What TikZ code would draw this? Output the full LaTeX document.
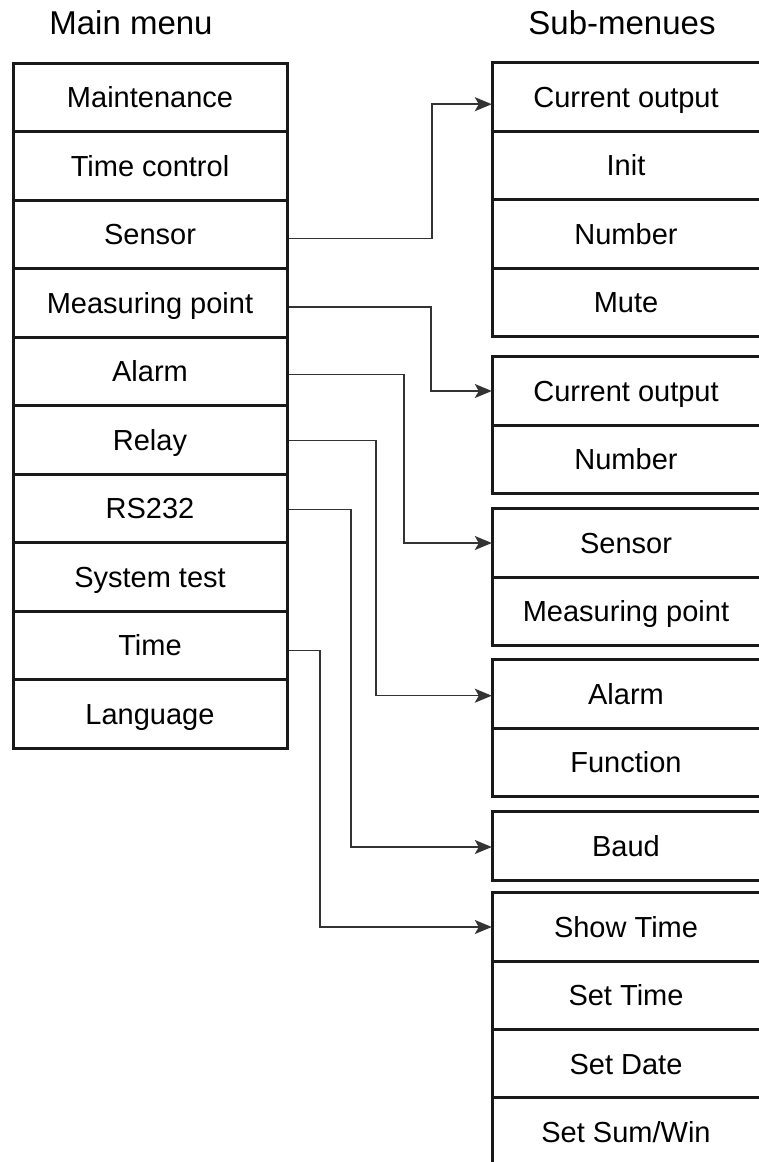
\documentclass[tikz,border=0pt]{standalone}
\usepackage{fontspec}
\setmainfont{Liberation Sans}
\usetikzlibrary{arrows.meta,calc}
\begin{document}
\begin{tikzpicture}[x=1pt,y=-1pt,
  txt/.style={font=\fontsize{29}{34}\selectfont, text height=20.8pt, text depth=0pt, inner sep=0pt},
  mrow/.style={txt, draw=black!90, line width=3pt, minimum width=274pt, minimum height=68.5pt},
  srow/.style={txt, minimum width=266pt, minimum height=68.3pt},
  ttl/.style={font=\fontsize{33}{38}\selectfont, text height=23.6pt, text depth=0pt, inner sep=0pt},
  boxline/.style={draw=black!90, line width=3pt},
  conn/.style={draw=black!80, line width=1.5pt, -{Stealth[length=17pt,width=14pt,inset=4pt]}}
]
\useasboundingbox (0,0) rectangle (759,1162);
% titles
\node[ttl] (t1) at (131,23) {Main menu};
\node[ttl] (t2) at (622,23) {Sub-menues};
% main menu
\node[mrow] (m0) at (150,97.25) {Maintenance};
\node[mrow] (m1) at (150,165.75) {Time control};
\node[mrow] (m2) at (150,234.25) {Sensor};
\node[mrow] (m3) at (150,302.75) {Measuring point};
\node[mrow] (m4) at (150,371.25) {Alarm};
\node[mrow] (m5) at (150,439.75) {Relay};
\node[mrow] (m6) at (150,508.25) {RS232};
\node[mrow] (m7) at (150,576.75) {System test};
\node[mrow] (m8) at (150,645.25) {Time};
\node[mrow] (m9) at (150,713.75) {Language};
% sub menus
\node[srow] (s1a) at (626,97.2) {Current output};
\node[srow] (s1b) at (626,165.5) {Init};
\node[srow] (s1c) at (626,233.8) {Number};
\node[srow] (s1d) at (626,302.1) {Mute};
\node[srow] (s2a) at (626,391) {Current output};
\node[srow] (s2b) at (626,459) {Number};
\node[srow] (s3a) at (626,543) {Sensor};
\node[srow] (s3b) at (626,611) {Measuring point};
\node[srow] (s4a) at (626,694.2) {Alarm};
\node[srow] (s4b) at (626,762.5) {Function};
\node[srow] (s5a) at (626,846) {Baud};
\node[srow] (s6a) at (626,927) {Show Time};
\node[srow] (s6b) at (626,995.3) {Set Time};
\node[srow] (s6c) at (626,1063.6) {Set Date};
\node[srow] (s6d) at (626,1131.9) {Set Sum/Win};
% sub menu frames (open on the right)
\draw[boxline] (s1a.north east) -- (s1a.north west) -- (s1d.south west) -- (s1d.south east);
\draw[boxline] (s1a.south west) -- (s1a.south east);
\draw[boxline] (s1b.south west) -- (s1b.south east);
\draw[boxline] (s1c.south west) -- (s1c.south east);
\draw[boxline] (s2a.north east) -- (s2a.north west) -- (s2b.south west) -- (s2b.south east);
\draw[boxline] (s2a.south west) -- (s2a.south east);
\draw[boxline] (s3a.north east) -- (s3a.north west) -- (s3b.south west) -- (s3b.south east);
\draw[boxline] (s3a.south west) -- (s3a.south east);
\draw[boxline] (s4a.north east) -- (s4a.north west) -- (s4b.south west) -- (s4b.south east);
\draw[boxline] (s4a.south west) -- (s4a.south east);
\draw[boxline] (s5a.north east) -- (s5a.north west) -- (s5a.south west) -- (s5a.south east);
\draw[boxline] (s6a.north east) -- (s6a.north west) -- ([yshift=-10pt]s6d.south west);
\draw[boxline] (s6a.south west) -- (s6a.south east);
\draw[boxline] (s6b.south west) -- (s6b.south east);
\draw[boxline] (s6c.south west) -- (s6c.south east);
% connectors
\draw[conn] ([yshift=-4pt]m2.east) -| ([xshift=-61pt,yshift=-7pt]s1a.west) -- ([xshift=-1pt,yshift=-7pt]s1a.west);
\draw[conn] ([yshift=-4pt]m3.east) -| ([xshift=-62pt]s2a.west) -- ([xshift=-1pt]s2a.west);
\draw[conn] ([yshift=-3pt]m4.east) -| ([xshift=-89pt]s3a.west) -- ([xshift=-1pt]s3a.west);
\draw[conn] ([yshift=-0.5pt]m5.east) -| ([xshift=-117pt,yshift=-1.5pt]s4a.west) -- ([xshift=-1pt,yshift=-1.5pt]s4a.west);
\draw[conn] ([yshift=-1pt]m6.east) -| ([xshift=-142pt,yshift=-1pt]s5a.west) -- ([xshift=-1pt,yshift=-1pt]s5a.west);
\draw[conn] ([yshift=-5pt]m8.east) -| ([xshift=-173pt]s6a.west) -- ([xshift=-1pt]s6a.west);
\end{tikzpicture}
\end{document}
